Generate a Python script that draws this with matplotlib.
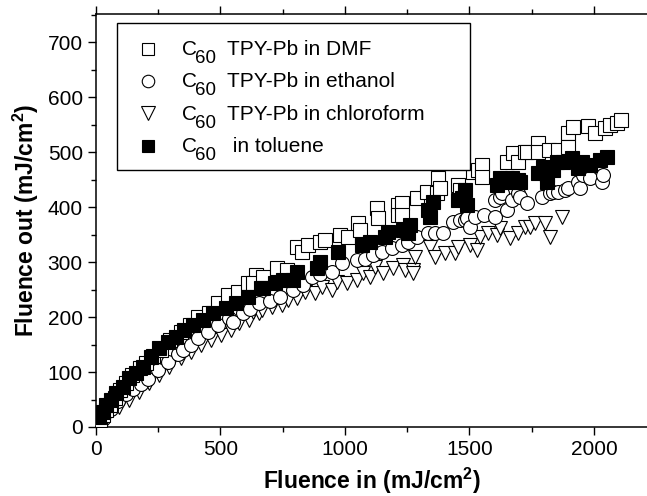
import matplotlib
matplotlib.use('Agg')
import matplotlib.pyplot as plt
from matplotlib.patches import Rectangle
from matplotlib.ticker import MultipleLocator

plt.rcParams['font.family'] = 'Liberation Sans'
plt.rcParams['mathtext.fontset'] = 'custom'
plt.rcParams['mathtext.rm'] = 'Liberation Sans'
plt.rcParams['mathtext.it'] = 'Liberation Sans:italic'
plt.rcParams['mathtext.bf'] = 'Liberation Sans:bold'

# C60 TPY-Pb in DMF (open squares)
dmf_in = [16, 28, 40, 56, 76, 96, 120, 145, 177, 201, 229, 261, 297, 341, 378, 410,
          454, 490, 530, 570, 610, 643, 631, 671, 727, 767, 807, 827, 851, 900, 920,
          980, 1012, 1052, 1060, 1129, 1133, 1213, 1213, 1229, 1229, 1289, 1329, 1369,
          1373, 1381, 1454, 1462, 1514, 1534, 1550, 1550, 1651, 1675, 1695, 1723, 1731,
          1775, 1775, 1819, 1855, 1896, 1896, 1916, 1976, 2004, 2044, 2064, 2092, 2110]
dmf_out = [13, 22, 31, 40, 53, 67, 80, 95, 107, 116, 129, 140, 158, 173, 185, 200,
           207, 225, 240, 245, 262, 276, 262, 273, 289, 285, 327, 318, 331, 336, 340,
           349, 345, 371, 358, 398, 380, 404, 385, 407, 385, 416, 427, 425,
           453, 435, 440, 431, 464, 467, 476, 455, 482, 498, 482, 500, 500,
           516, 500, 504, 504, 535, 509, 545, 547, 535, 544, 549, 553, 558]

# C60 TPY-Pb in ethanol (open circles)
eth_in = [30, 60, 90, 120, 150, 180, 210, 250, 290, 330, 349, 380, 410, 450, 490, 534,
          550, 590, 620, 655, 700, 739, 790, 831, 867, 900, 948, 988, 1048, 1080, 1112,
          1150, 1190, 1229, 1253, 1290, 1333, 1361, 1394, 1434, 1462, 1482, 1490, 1502,
          1522, 1560, 1602, 1602, 1622, 1630, 1651, 1671, 1695, 1703, 1731, 1791, 1823,
          1835, 1855, 1884, 1896, 1936, 1944, 1956, 1984, 2032, 2036]
eth_out = [15, 33, 48, 60, 70, 78, 88, 104, 118, 133, 140, 150, 162, 172, 185, 198,
           191, 207, 215, 225, 230, 236, 250, 258, 273, 278, 282, 298, 304, 305, 313,
           318, 325, 331, 336, 345, 353, 353, 353, 373, 376, 376, 380, 364,
           382, 385, 382, 413, 418, 425, 395, 413, 425, 418, 407, 418, 425,
           427, 427, 431, 435, 445, 435, 458, 453, 445, 458]

# C60 TPY-Pb in chloroform (open down triangles)
chl_in = [28, 52, 92, 133, 173, 213, 253, 293, 341, 382, 422, 462, 502, 542, 574, 614,
          631, 655, 667, 707, 747, 771, 807, 839, 880, 908, 948, 968, 1008, 1048, 1072,
          1100, 1120, 1153, 1193, 1233, 1241, 1273, 1273, 1281, 1341, 1361, 1402, 1442,
          1454, 1502, 1530, 1542, 1574, 1610, 1622, 1663, 1695, 1723, 1743, 1763, 1803,
          1823, 1871]
chl_out = [16, 25, 36, 49, 64, 80, 95, 109, 125, 136, 149, 158, 167, 176, 189, 195,
           209, 207, 213, 218, 222, 231, 235, 245, 244, 255, 249, 264, 262, 267, 280,
           273, 291, 280, 289, 295, 285, 285, 280, 309, 327, 309, 316, 316,
           327, 331, 322, 345, 353, 349, 362, 344, 353, 364, 364, 371, 371,
           345, 382]

# C60 in toluene (filled squares)
tol_in = [12, 28, 40, 60, 80, 108, 133, 161, 189, 221, 253, 289, 321, 353, 390, 430,
          470, 522, 562, 610, 663, 671, 719, 751, 791, 807, 888, 900, 972, 1068, 1100,
          1161, 1173, 1233, 1253, 1261, 1333, 1341, 1353, 1454, 1470, 1482, 1490, 1610,
          1622, 1663, 1671, 1695, 1703, 1775, 1795, 1811, 1811, 1835, 1851, 1876, 1912,
          1936, 1952, 1984, 2024, 2052]
tol_out = [18, 27, 40, 49, 62, 73, 89, 98, 109, 127, 144, 155, 164, 176, 185, 195,
           207, 216, 225, 236, 253, 253, 262, 267, 267, 282, 289, 300, 318, 331, 336,
           345, 355, 358, 353, 367, 395, 382, 409, 413, 416, 431, 404, 440,
           453, 445, 453, 449, 445, 462, 473, 458, 445, 467, 482, 482, 489,
           471, 482, 476, 485, 491]

x_ticks = [0, 500, 1000, 1500, 2000]
y_ticks = [0, 100, 200, 300, 400, 500, 600, 700]

# legend rows: marker, fill, text after the subscript
leg_rows = [('s', 'white', 'TPY-Pb in DMF'),
            ('o', 'white', 'TPY-Pb in ethanol'),
            ('v', 'white', 'TPY-Pb in chloroform'),
            ('s', 'black', ' in toluene')]

fig = plt.figure(figsize=(6.47, 4.96), dpi=100)
ax = fig.add_axes([96 / 647, 69 / 496, 551 / 647, 413 / 496])

mk = dict(linestyle='none', markeredgecolor='black', markeredgewidth=0.8)
ax.plot(chl_in, chl_out, marker='v', markersize=10.5, markerfacecolor='white', zorder=3, **mk)
ax.plot(eth_in, eth_out, marker='o', markersize=10, markerfacecolor='white', zorder=4, **mk)
ax.plot(dmf_in, dmf_out, marker='s', markersize=9.5, markerfacecolor='white', zorder=5, **mk)
ax.plot(tol_in, tol_out, marker='s', markersize=9.5, markerfacecolor='black', zorder=6, **mk)

ax.set_xlim(0, 2213)
ax.set_ylim(0, 751)
ax.set_xticks(x_ticks)
ax.set_yticks(y_ticks)
ax.xaxis.set_minor_locator(MultipleLocator(250))
ax.yaxis.set_minor_locator(MultipleLocator(50))
ax.tick_params(which='major', direction='out', length=6, width=1, labelsize=15,
               top=True, right=False)
ax.tick_params(which='minor', direction='out', length=3.5, width=1, top=True, right=False)
for s in ['left', 'bottom', 'top']:
    ax.spines[s].set_linewidth(1.1)
ax.spines['right'].set_visible(False)

ax.set_xlabel(r'Fluence in (mJ/cm$^\mathbf{2}$)', fontsize=16.5, fontweight='bold', labelpad=5)
ax.set_ylabel(r'Fluence out (mJ/cm$^\mathbf{2}$)', fontsize=16.5, fontweight='bold', labelpad=5)


# legend drawn by hand (pixel positions -> axes fraction)
def ax_x(px):
    return (px - 96) / 551


def ax_y(py):
    return (427 - py) / 413


frame = Rectangle((ax_x(117), ax_y(170)), 353 / 551, 147 / 413, transform=ax.transAxes,
                  facecolor='white', edgecolor='black', linewidth=1, zorder=10)
ax.add_patch(frame)
for i, (m, fc, txt) in enumerate(leg_rows):
    base = 55 + 32.4 * i
    ms = 10 if m == 'v' else 9
    ax.plot([ax_x(148)], [ax_y(base - 6.5)], transform=ax.transAxes, marker=m,
            markersize=ms, markerfacecolor=fc, clip_on=False, zorder=11, **mk)
    ax.text(ax_x(182), ax_y(base), 'C', transform=ax.transAxes, fontsize=15,
            va='baseline', ha='left', zorder=12)
    ax.text(ax_x(195), ax_y(base + 8), '60', transform=ax.transAxes, fontsize=13.5,
            va='baseline', ha='left', zorder=12)
    ax.text(ax_x(227), ax_y(base), txt, transform=ax.transAxes, fontsize=15,
            va='baseline', ha='left', zorder=12)

fig.savefig('out.png', dpi=100)
